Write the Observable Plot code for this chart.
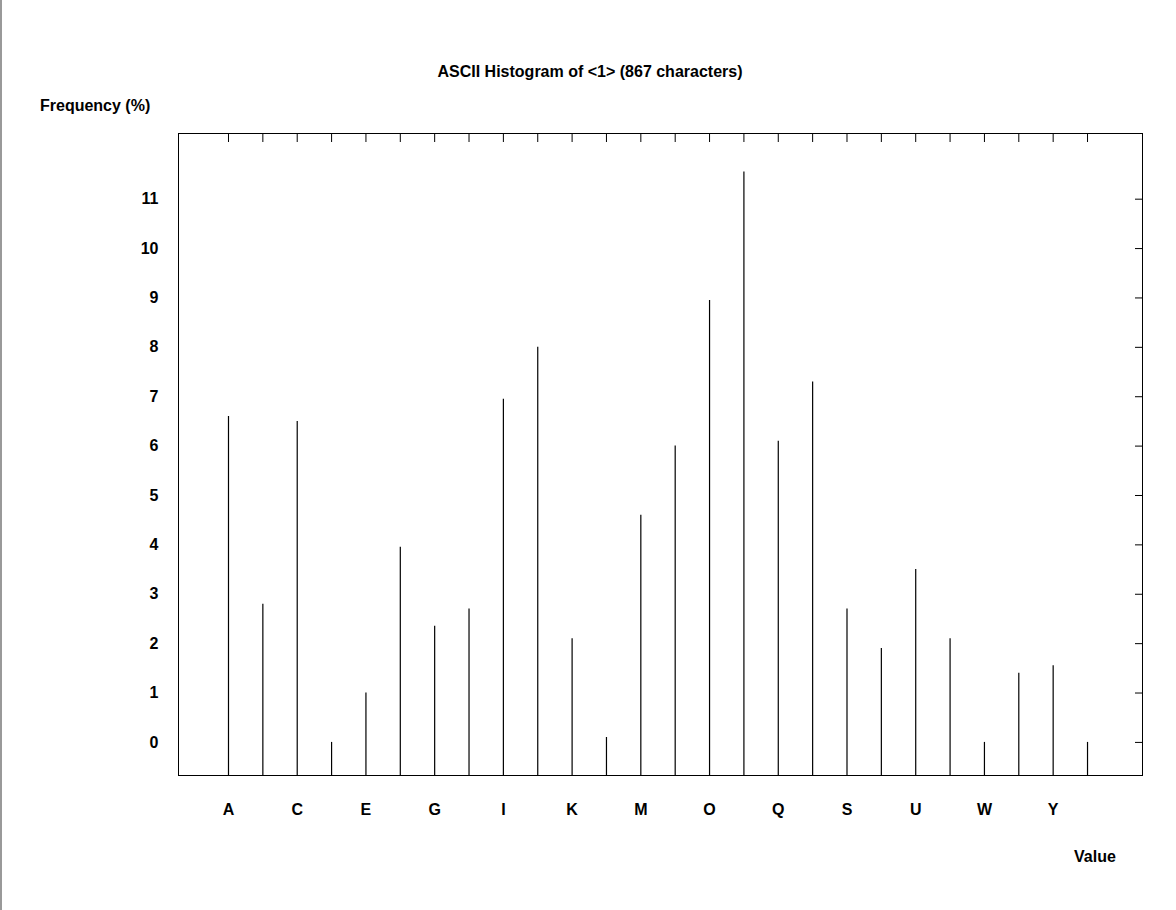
<!DOCTYPE html>
<html><head><meta charset="utf-8">
<script src="https://cdn.jsdelivr.net/npm/d3@7"></script>
<script src="https://cdn.jsdelivr.net/npm/@observablehq/plot@0.6"></script>
<style>
body{margin:0;background:#fff;font-family:"Liberation Sans",Arial,sans-serif;}
#wrap{position:relative;width:1176px;height:910px;border-left:2px solid #999;box-sizing:border-box;}
#plot{position:absolute;left:-2px;top:0;}
.t{position:absolute;font-weight:bold;font-size:16px;color:#000;}
</style></head><body>
<div id="wrap">
<div class="t" style="left:0;width:1176px;top:63px;text-align:center;">ASCII Histogram of &lt;1&gt; (867 characters)</div>
<div class="t" style="left:38px;top:97px;">Frequency (%)</div>
<div class="t" style="left:1072px;top:848px;">Value</div>
<div id="plot"></div>
</div>
<script>
const letters = "ABCDEFGHIJKLMNOPQRSTUVWXYZ".split("");
const values = [6.6,2.8,6.5,0.0,1.0,3.95,2.35,2.7,6.95,8.0,2.1,0.1,4.6,6.0,8.95,11.55,6.1,7.3,2.7,1.9,3.5,2.1,0.0,1.4,1.55,0.0];
const yTicks = d3.range(0,12);
const data = letters.map((l,i)=>({i,l,v:values[i]}));
const yMin = -0.67, yMax = 12.33;
const chart = Plot.plot({
  width:1176, height:910,
  marginLeft:178, marginRight:34, marginTop:133, marginBottom:135,
  style:{fontFamily:"Liberation Sans, Arial, sans-serif", fontSize:"16px", fontWeight:"bold", color:"#000", background:"transparent"},
  x:{domain:[-1.455,26.6]},
  y:{domain:[yMin,yMax]},
  marks:[
    Plot.frame({stroke:"#000"}),
    Plot.ruleX(data,{x:"i", y1:yMin, y2:"v", stroke:"#000", strokeWidth:1.2}),
    Plot.axisY({anchor:"left", ticks:yTicks, tickSize:0, tickPadding:20, label:null, tickFormat:d=>d}),
    Plot.axisY({anchor:"right", ticks:yTicks, tickSize:8, dx:-8, text:null, label:null}),
    Plot.axisX({anchor:"bottom", ticks:d3.range(0,26,2), tickSize:0, tickPadding:28, label:null, tickFormat:i=>letters[i]}),
    Plot.axisX({anchor:"top", ticks:d3.range(0,26), tickSize:8, dy:8, text:null, label:null})
  ]
});
document.getElementById("plot").appendChild(chart);
</script>
</body></html>
